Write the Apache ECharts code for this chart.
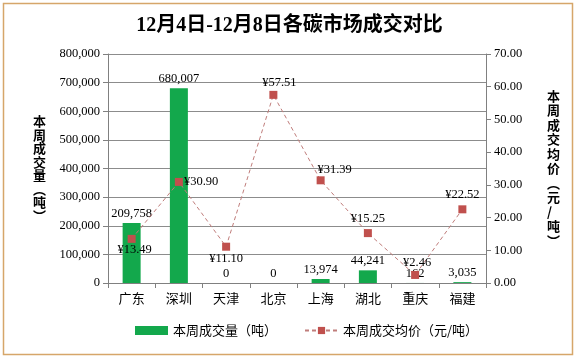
<!DOCTYPE html>
<html><head><meta charset="utf-8">
<script src="https://cdn.jsdelivr.net/npm/echarts@6/dist/echarts.min.js"></script>
<style>html,body{margin:0;padding:0;background:#fff}#c{width:579px;height:361px}</style>
</head><body><div id="c"></div>
<script>
var categories = ['广东','深圳','天津','北京','上海','湖北','重庆','福建'];
var volume = [209758, 680007, 0, 0, 13974, 44241, 162, 3035];
var price = [13.49, 30.90, 11.10, 57.51, 31.39, 15.25, 2.46, 22.52];
var leftTicks = [0, 100000, 200000, 300000, 400000, 500000, 600000, 700000, 800000];
var rightTicks = [0, 10, 20, 30, 40, 50, 60, 70];
var titleText = '12月4日-12月8日各碳市场成交对比';
var volName = '本周成交量（吨）';
var priceName = '本周成交均价（元/吨）';

// label placement (style only)
var priceLabelPos = [
  {position:'bottom', offset:[3,-4]},
  {position:'right', offset:[-3,0]},
  {position:'bottom', offset:[0,-2]},
  {position:'top', offset:[6,2]},
  {position:'top', offset:[14,4]},
  {position:'top', offset:[0,0]},
  {position:'top', offset:[2,2]},
  {position:'top', offset:[0,0]}
];

var serif = '"Liberation Serif","DejaVu Serif",serif';
var cjk = '"Noto Sans CJK SC","Noto Sans",sans-serif';
function vert(s){ return s.replace('（','︵').replace('）','︶').split('').join('\n'); }

var chart = echarts.init(document.getElementById('c'));
chart.setOption({
  animation:false,
  backgroundColor:'#fff',
  graphic:[{type:'rect', shape:{x:3.5,y:3.5,width:569,height:351}, style:{fill:'none', stroke:'#d6a66a', lineWidth:1.5}}],
  title:{text:titleText, left:'center', top:11, textStyle:{fontFamily:serif+','+cjk, fontSize:20, fontWeight:'bold', color:'#000'}},
  grid:{left:108, right:93, top:54, bottom:78},
  legend:{bottom:19, left:130, itemGap:27, itemWidth:33, itemHeight:9,
    textStyle:{fontFamily:cjk, fontSize:13, color:'#000'},
    data:[{name:volName, icon:'rect'}, {name:priceName}]},
  xAxis:{type:'category', data:categories,
    axisLine:{lineStyle:{color:'#808080'}},
    axisTick:{show:true, length:5, lineStyle:{color:'#808080'}},
    axisLabel:{fontFamily:cjk, fontSize:13, color:'#000', margin:9}},
  yAxis:[
    {type:'value', min:leftTicks[0], max:leftTicks[leftTicks.length-1], interval:leftTicks[1]-leftTicks[0],
     name:vert(volName), nameLocation:'middle', nameRotate:0, nameGap:62,
     nameTextStyle:{fontFamily:cjk, fontSize:13, fontWeight:'bold', color:'#000', lineHeight:13.5},
     axisLine:{show:true, lineStyle:{color:'#808080'}},
     axisTick:{show:true, length:5, lineStyle:{color:'#808080'}},
     splitLine:{lineStyle:{color:'#8c8c8c'}},
     axisLabel:{fontFamily:serif, fontSize:12.5, color:'#000', margin:8,
       formatter:function(v){return v.toLocaleString('en-US');}}},
    {type:'value', min:rightTicks[0], max:rightTicks[rightTicks.length-1], interval:rightTicks[1]-rightTicks[0],
     name:vert(priceName), nameLocation:'middle', nameRotate:0, nameGap:61,
     nameTextStyle:{fontFamily:cjk, fontSize:13, fontWeight:'bold', color:'#000', lineHeight:14.5},
     axisLine:{show:true, lineStyle:{color:'#808080'}},
     axisTick:{show:true, length:5, lineStyle:{color:'#808080'}},
     splitLine:{show:false},
     axisLabel:{fontFamily:serif, fontSize:12.5, color:'#000', margin:8,
       formatter:function(v){return v.toFixed(2);}}}
  ],
  series:[
    {name:volName, type:'bar', yAxisIndex:0, barWidth:18, data:volume,
     itemStyle:{color:'#13a84c'},
     label:{show:true, position:'top', distance:3, fontFamily:serif, fontSize:12.5, color:'#000',
       formatter:function(p){return p.value.toLocaleString('en-US');}}},
    {name:priceName, type:'line', yAxisIndex:1,
     data:price.map(function(v,i){return {value:v, label:priceLabelPos[i]};}),
     symbol:'rect', symbolSize:8,
     lineStyle:{color:'#c07d7b', width:1, type:[4,3]},
     itemStyle:{color:'#c0504d'},
     label:{show:true, fontFamily:serif, fontSize:12.5, color:'#000', distance:4,
       formatter:function(p){return '¥'+p.value.toFixed(2);}}}
  ]
});
</script></body></html>
